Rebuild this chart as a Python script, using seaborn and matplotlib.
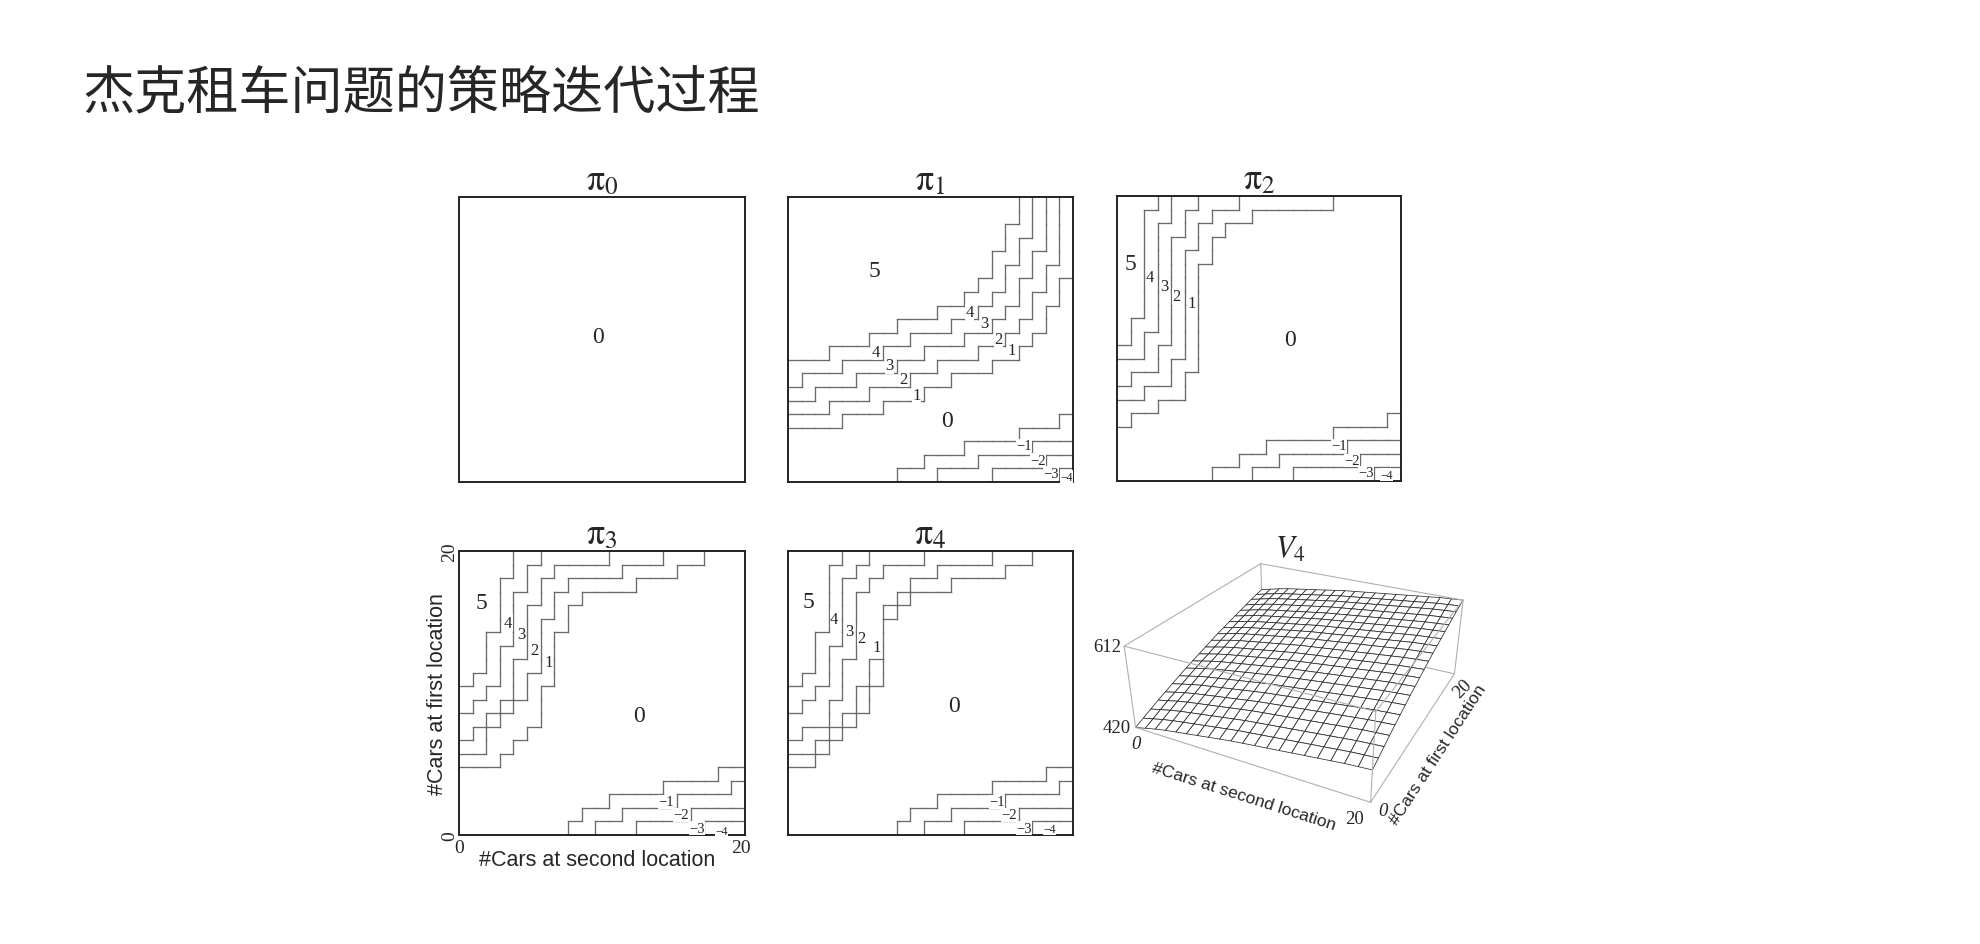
import numpy as np
import matplotlib
matplotlib.use("Agg")
import matplotlib.pyplot as plt
import seaborn as sns
from matplotlib.colors import ListedColormap
from matplotlib.collections import LineCollection
from mpl_toolkits.mplot3d import proj3d

# -----------------------------
# DATA
# -----------------------------
N_CARS = 21  # 0..20 cars at each location

# policy boundaries: for level k, first row (#cars at first location) whose action >= k,
# one value per column (#cars at second location 0..20); 21 = level not reached
pi0_up = []
pi0_down = []

pi1_up = [
    [4, 4, 4, 4, 5, 5, 5, 6, 6, 6, 7, 7, 8, 8, 8, 9, 9, 10, 11, 13, 15],
    [5, 5, 5, 6, 6, 6, 7, 7, 7, 8, 8, 9, 9, 9, 10, 10, 11, 12, 14, 16, 21],
    [6, 6, 7, 7, 7, 8, 8, 8, 9, 9, 10, 10, 10, 11, 11, 12, 13, 15, 17, 21, 21],
    [7, 8, 8, 8, 9, 9, 9, 10, 10, 11, 11, 11, 12, 12, 13, 14, 16, 18, 21, 21, 21],
    [9, 9, 9, 10, 10, 10, 11, 11, 12, 12, 12, 13, 13, 14, 15, 17, 19, 21, 21, 21, 21],
]
# negative levels: rows below this value have action <= -k
pi1_down = [
    [0, 0, 0, 0, 0, 0, 0, 0, 1, 1, 2, 2, 2, 3, 3, 3, 3, 4, 4, 4, 5],
    [0, 0, 0, 0, 0, 0, 0, 0, 0, 0, 0, 1, 1, 1, 2, 2, 2, 2, 3, 3, 3],
    [0, 0, 0, 0, 0, 0, 0, 0, 0, 0, 0, 0, 0, 0, 0, 1, 1, 1, 1, 2, 2],
    [0, 0, 0, 0, 0, 0, 0, 0, 0, 0, 0, 0, 0, 0, 0, 0, 0, 0, 0, 0, 1],
]

pi2_up = [
    [4, 5, 5, 6, 6, 8, 16, 18, 19, 19, 20, 20, 20, 20, 20, 20, 21, 21, 21, 21, 21],
    [6, 6, 7, 7, 9, 17, 19, 20, 20, 21, 21, 21, 21, 21, 21, 21, 21, 21, 21, 21, 21],
    [7, 8, 8, 10, 18, 20, 21, 21, 21, 21, 21, 21, 21, 21, 21, 21, 21, 21, 21, 21, 21],
    [9, 9, 11, 19, 21, 21, 21, 21, 21, 21, 21, 21, 21, 21, 21, 21, 21, 21, 21, 21, 21],
    [10, 12, 20, 21, 21, 21, 21, 21, 21, 21, 21, 21, 21, 21, 21, 21, 21, 21, 21, 21, 21],
]
pi2_down = [
    [0, 0, 0, 0, 0, 0, 0, 1, 1, 2, 2, 3, 3, 3, 3, 3, 4, 4, 4, 4, 5],
    [0, 0, 0, 0, 0, 0, 0, 0, 0, 0, 1, 1, 2, 2, 2, 2, 2, 3, 3, 3, 3],
    [0, 0, 0, 0, 0, 0, 0, 0, 0, 0, 0, 0, 0, 1, 1, 1, 1, 1, 2, 2, 2],
    [0, 0, 0, 0, 0, 0, 0, 0, 0, 0, 0, 0, 0, 0, 0, 0, 0, 0, 0, 1, 1],
]

pi3_up = [
    [5, 5, 5, 6, 7, 8, 11, 15, 17, 18, 18, 18, 18, 19, 19, 19, 20, 20, 21, 21, 21],
    [6, 6, 8, 9, 10, 12, 16, 18, 19, 19, 19, 19, 20, 20, 20, 21, 21, 21, 21, 21, 21],
    [7, 8, 9, 10, 13, 17, 19, 20, 20, 20, 20, 21, 21, 21, 21, 21, 21, 21, 21, 21, 21],
    [9, 10, 11, 14, 18, 20, 21, 21, 21, 21, 21, 21, 21, 21, 21, 21, 21, 21, 21, 21, 21],
    [11, 12, 15, 19, 21, 21, 21, 21, 21, 21, 21, 21, 21, 21, 21, 21, 21, 21, 21, 21, 21],
]
pi3_down = [
    [0, 0, 0, 0, 0, 0, 0, 0, 1, 2, 2, 3, 3, 3, 3, 4, 4, 4, 4, 5, 5],
    [0, 0, 0, 0, 0, 0, 0, 0, 0, 0, 1, 1, 2, 2, 2, 2, 3, 3, 3, 3, 4],
    [0, 0, 0, 0, 0, 0, 0, 0, 0, 0, 0, 0, 0, 1, 1, 1, 1, 2, 2, 2, 2],
    [0, 0, 0, 0, 0, 0, 0, 0, 0, 0, 0, 0, 0, 0, 0, 0, 0, 0, 1, 1, 1],
]

pi4_up = [
    [5, 5, 6, 7, 8, 9, 11, 16, 17, 18, 18, 18, 19, 19, 19, 19, 20, 20, 21, 21, 21],
    [6, 6, 7, 8, 9, 11, 13, 17, 18, 19, 19, 20, 20, 20, 20, 21, 21, 21, 21, 21, 21],
    [7, 8, 8, 10, 13, 18, 19, 20, 20, 20, 21, 21, 21, 21, 21, 21, 21, 21, 21, 21, 21],
    [9, 10, 11, 14, 19, 20, 21, 21, 21, 21, 21, 21, 21, 21, 21, 21, 21, 21, 21, 21, 21],
    [11, 12, 15, 20, 21, 21, 21, 21, 21, 21, 21, 21, 21, 21, 21, 21, 21, 21, 21, 21, 21],
]
pi4_down = pi3_down

# value function V4: along first location (0 cars at second) and along second location (0 cars at first)
v4_first_loc = [420, 428, 436, 444, 451, 458, 465, 472, 478, 484, 490,
                496, 502, 507, 512, 517, 522, 527, 532, 536, 540]
v4_second_loc = [420, 426, 432, 437, 441, 445, 449, 453, 457, 461, 464,
                 467, 470, 473, 476, 479, 482, 485, 488, 490, 492]

# region labels drawn inside each policy panel: (text, x, y, fontsize)
pi0_text = [("0", 10.2, 10.7, 17)]
pi1_text = [("5", 6.4, 15.6, 17), ("0", 11.7, 4.5, 17),
            ("4", 13.4, 12.5, 12), ("3", 14.5, 11.7, 12), ("2", 15.5, 10.5, 12), ("1", 16.5, 9.7, 12),
            ("4", 6.5, 9.6, 12), ("3", 7.5, 8.6, 12), ("2", 8.5, 7.6, 12), ("1", 9.5, 6.4, 12),
            ("\u22121", 17.4, 2.7, 10.5), ("\u22122", 18.4, 1.6, 10.5), ("\u22123", 19.4, 0.65, 10.5),
            ("\u22124", 20.5, 0.4, 8.5)]
pi2_text = [("5", 1.0, 16.0, 17), ("4", 2.46, 15.0, 12), ("3", 3.5, 14.4, 12), ("2", 4.4, 13.6, 12),
            ("1", 5.5, 13.1, 12), ("0", 12.8, 10.4, 17),
            ("\u22121", 16.4, 2.6, 10.5), ("\u22122", 17.4, 1.5, 10.5), ("\u22123", 18.4, 0.6, 10.5),
            ("\u22124", 19.95, 0.47, 8.5)]
pi3_text = [("5", 1.64, 17.2, 17), ("4", 3.6, 15.7, 12), ("3", 4.6, 14.85, 12), ("2", 5.5, 13.7, 12),
            ("1", 6.6, 12.8, 12), ("0", 13.2, 8.8, 17),
            ("\u22121", 15.2, 2.46, 10.5), ("\u22122", 16.3, 1.48, 10.5), ("\u22123", 17.45, 0.5, 10.5),
            ("\u22124", 19.3, 0.32, 8.5)]
pi4_text = [("5", 1.47, 17.3, 17), ("4", 3.4, 16.0, 12), ("3", 4.5, 15.1, 12), ("2", 5.4, 14.6, 12),
            ("1", 6.5, 13.9, 12), ("0", 12.2, 9.6, 17),
            ("\u22121", 15.4, 2.46, 10.5), ("\u22122", 16.3, 1.48, 10.5), ("\u22123", 17.4, 0.5, 10.5),
            ("\u22124", 19.3, 0.44, 8.5)]

W, H = 1980, 945


def px_rect(x, top, w, h):
    return [x / W, 1 - (top + h) / H, w / W, h / H]


def policy_grid(up, down):
    rows = np.arange(N_CARS)[:, None]
    grid = np.zeros((N_CARS, N_CARS), dtype=int)
    for thr in up:
        grid += rows >= np.array(thr)[None, :]
    for thr in down:
        grid -= rows < np.array(thr)[None, :]
    return grid


def boundary_segments(grid):
    segs = []
    for i in range(N_CARS):
        for j in range(N_CARS - 1):
            if grid[i, j] != grid[i, j + 1]:
                segs.append([(j + 1, i), (j + 1, i + 1)])
    for i in range(N_CARS - 1):
        for j in range(N_CARS):
            if grid[i, j] != grid[i + 1, j]:
                segs.append([(j, i + 1), (j + 1, i + 1)])
    return segs


sns.set_theme(style="white")
plt.rcParams["font.family"] = ["Liberation Serif", "DejaVu Sans"]
plt.rcParams["mathtext.fontset"] = "stix"

fig = plt.figure(figsize=(19.8, 9.45), dpi=100)
fig.text(82 / W, 1 - 95 / H, "杰克租车问题的策略迭代过程",
         family=["Noto Sans CJK SC", "DejaVu Sans"], fontsize=37.5, ha="left", va="center")

# -----------------------------
# V4 surface (added first so the policy panels sit on top of its frame)
# -----------------------------
first = np.array(v4_first_loc)
second = np.array(v4_second_loc)
V4 = first[:, None] + (second - second[0])[None, :]
X, Y = np.meshgrid(np.arange(N_CARS), np.arange(N_CARS))
zmin, zmax = V4.min(), V4.max()

ax3 = fig.add_axes(px_rect(1080, 458, 440, 420), projection="3d", computed_zorder=False)
ax3.set_axis_off()
ax3.patch.set_alpha(0)
ax3.view_init(elev=28, azim=-63)
ax3.set_proj_type("persp", focal_length=0.3)
ax3.set_box_aspect((1, 1, 0.36), zoom=0.82)
ax3.set_xlim(0, 20)
ax3.set_ylim(0, 20)
ax3.set_zlim(zmin, zmax)

box_col = "#b0b0b0"
hidden_edges = [((0, 20, zmin), (0, 0, zmin)), ((0, 20, zmin), (20, 20, zmin)),
                ((0, 20, zmin), (0, 20, zmax))]
visible_edges = [((0, 0, zmax), (20, 0, zmax)), ((20, 0, zmax), (20, 20, zmax)),
                 ((20, 20, zmax), (0, 20, zmax)), ((0, 20, zmax), (0, 0, zmax)),
                 ((0, 0, zmin), (20, 0, zmin)), ((20, 0, zmin), (20, 20, zmin)),
                 ((0, 0, zmin), (0, 0, zmax)), ((20, 0, zmin), (20, 0, zmax)),
                 ((20, 20, zmin), (20, 20, zmax))]
for a, b in hidden_edges:
    ax3.plot(*zip(a, b), color=box_col, lw=0.8, zorder=1)
ax3.plot_surface(X, Y, V4, color="white", edgecolor="#2a2a2a", linewidth=0.55,
                 shade=False, rstride=1, cstride=1, zorder=2)
for a, b in visible_edges:
    ax3.plot(*zip(a, b), color=box_col, lw=0.8, zorder=3)

panels = [
    (pi0_up, pi0_down, pi0_text, (459, 198, 286, 285), 0),
    (pi1_up, pi1_down, pi1_text, (788, 198, 285, 285), 1),
    (pi2_up, pi2_down, pi2_text, (1117, 197, 284, 285), 2),
    (pi3_up, pi3_down, pi3_text, (459, 552, 286, 284), 3),
    (pi4_up, pi4_down, pi4_text, (788, 552, 285, 284), 4),
]

for up, down, labels, rect, k in panels:
    ax = fig.add_axes(px_rect(*rect))
    grid = policy_grid(up, down)
    sns.heatmap(grid, ax=ax, cmap=ListedColormap(["white"]), cbar=False,
                xticklabels=False, yticklabels=False)
    ax.invert_yaxis()
    ax.add_collection(LineCollection(boundary_segments(grid), colors="#6a6a6a",
                                     linewidths=0.95, capstyle="projecting"))
    for s in ax.spines.values():
        s.set_visible(True)
        s.set_color("#222222")
        s.set_linewidth(1.4)
    ax.set_xticks([])
    ax.set_yticks([])
    for txt, x, y, fs in labels:
        bbox = None
        if fs < 15:
            bbox = dict(boxstyle="square,pad=0.02", fc="white", ec="none")
        ax.text(x, y, txt, fontsize=fs, ha="center", va="center", bbox=bbox, zorder=5)
    ax.set_title(r"$\mathrm{\pi}_{%d}$" % k, fontsize=26, pad=3)

    if k == 3:
        ax.text(0, -0.9, "0", fontsize=14, ha="center", va="center", clip_on=False)
        ax.text(20.7, -0.9, "20", fontsize=14, ha="center", va="center", clip_on=False)
        ax.text(-0.68, 0, "0", fontsize=14, ha="center", va="center", rotation=90, clip_on=False)
        ax.text(-0.7, 21.0, "20", fontsize=14, ha="center", va="center", rotation=90, clip_on=False)
        ax.text(10.15, -1.8, "#Cars at second location", family="Liberation Sans",
                fontsize=15.5, ha="center", va="center", clip_on=False)
        ax.text(-1.55, 10.5, "#Cars at first location", family="Liberation Sans",
                fontsize=15.5, ha="center", va="center", rotation=90, clip_on=False)

# place the 3D annotations in screen space from the projected box corners
fig.canvas.draw()
M = ax3.get_proj()


def to_px(x, y, z):
    xp, yp, _ = proj3d.proj_transform(x, y, z, M)
    return ax3.transData.transform((xp, yp))


def put(p, dx, dy, s, **kw):
    fig.text((p[0] + dx) / W, (p[1] + dy) / H, s, **kw)


t00 = to_px(0, 0, zmax)
b00 = to_px(0, 0, zmin)
b10 = to_px(20, 0, zmin)
b11 = to_px(20, 20, zmin)

put(t00, -3, 0, "612", fontsize=13.5, ha="right", va="center")
put(b00, -5, 0, "420", fontsize=13.5, ha="right", va="center")
put(b00, 0, -16, "0", fontsize=13.5, ha="center", va="center", style="italic")
put(b10, -16, -16, "20", fontsize=13.5, ha="center", va="center")
put(b10, 12, -8, "0", fontsize=13.5, ha="center", va="center", style="italic")
put(b11, 8, -14, "20", fontsize=13.5, ha="center", va="center", rotation=45)

for pa, pb, s, off in [(b00, b10, "#Cars at second location", 32), (b10, b11, "#Cars at first location", 30)]:
    ang = np.degrees(np.arctan2(pb[1] - pa[1], pb[0] - pa[0]))
    mid = (pa + pb) / 2
    nx, ny = np.sin(np.radians(ang)), -np.cos(np.radians(ang))
    put(mid, nx * off, ny * off, s, family="Liberation Sans", fontsize=12.5,
        ha="center", va="center", rotation=ang, rotation_mode="anchor")

fig.text(1290 / W, 1 - 550 / H, r"$V_4$", fontsize=22, ha="center", va="center")

fig.savefig("out.png", dpi=100, facecolor="white")
